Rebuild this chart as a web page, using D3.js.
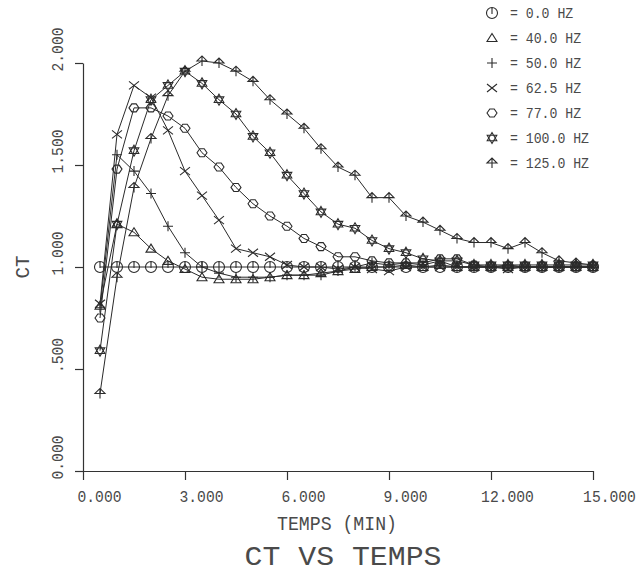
<!DOCTYPE html>
<html>
<head>
<meta charset="utf-8">
<script src="https://cdn.jsdelivr.net/npm/d3@7"></script>
<style>
  body { margin: 0; background: #fff; }
  svg text { font-family: "Liberation Mono", "DejaVu Sans Mono", monospace; fill: #4a4a4a; }
</style>
</head>
<body>
<svg id="chart" width="642" height="574"></svg>
<script>
// sample times (min)
const times = [0.5, 1.0, 1.5, 2.0, 2.5, 3.0, 3.5, 4.0, 4.5, 5.0,
               5.5, 6.0, 6.5, 7.0, 7.5, 8.0, 8.5, 9.0, 9.5, 10.0,
               10.5, 11.0, 11.5, 12.0, 12.5, 13.0, 13.5, 14.0, 14.5, 15.0];

// CT values, one array per frequency
const ct0   = [1.00, 1.00, 1.00, 1.00, 1.00, 1.00, 1.00, 1.00, 1.00, 1.00,
               1.00, 1.00, 1.00, 1.00, 1.00, 1.00, 1.00, 1.00, 1.00, 1.00,
               1.00, 1.00, 1.00, 1.00, 1.00, 1.00, 1.00, 1.00, 1.00, 1.00];
const ct40  = [0.81, 1.21, 1.17, 1.09, 1.03, 0.99, 0.95, 0.94, 0.94, 0.94,
               0.95, 0.96, 0.96, 0.97, 0.98, 0.99, 1.00, 1.00, 1.01, 1.00,
               1.01, 1.00, 1.00, 1.00, 1.00, 1.00, 1.00, 1.00, 1.00, 1.00];
const ct50  = [0.80, 1.55, 1.47, 1.36, 1.20, 1.07, 1.00, 0.97, 0.95, 0.95,
               0.95, 0.96, 0.96, 0.96, 0.98, 1.00, 1.02, 1.01, 1.02, 1.01,
               1.03, 1.00, 1.00, 1.00, 1.01, 1.00, 1.00, 1.00, 1.00, 1.00];
const ct62  = [0.82, 1.65, 1.89, 1.83, 1.67, 1.47, 1.35, 1.23, 1.09, 1.07,
               1.05, 1.01, 1.00, 1.00, 0.99, 1.00, 0.99, 0.98, 1.00, 1.00,
               1.00, 1.00, 1.00, 1.00, 0.99, 1.00, 1.00, 1.00, 1.00, 1.00];
const ct77  = [0.75, 1.48, 1.78, 1.78, 1.74, 1.68, 1.56, 1.49, 1.39, 1.31,
               1.25, 1.20, 1.14, 1.10, 1.05, 1.05, 1.03, 1.02, 1.02, 1.02,
               1.04, 1.04, 1.01, 1.00, 1.00, 1.00, 1.00, 1.00, 1.00, 1.00];
const ct100 = [0.59, 1.21, 1.57, 1.82, 1.89, 1.96, 1.90, 1.82, 1.75, 1.64,
               1.56, 1.45, 1.36, 1.27, 1.21, 1.19, 1.13, 1.09, 1.07, 1.04,
               1.03, 1.03, 1.01, 1.01, 1.01, 1.01, 1.01, 1.01, 1.01, 1.01];
const ct125 = [0.38, 0.95, 1.39, 1.63, 1.84, 1.96, 2.01, 2.00, 1.96, 1.91,
               1.82, 1.75, 1.68, 1.58, 1.49, 1.45, 1.34, 1.34, 1.25, 1.22,
               1.18, 1.14, 1.12, 1.12, 1.09, 1.12, 1.07, 1.03, 1.02, 1.01];

const seriesNames = ["0.0 HZ", "40.0 HZ", "50.0 HZ", "62.5 HZ", "77.0 HZ", "100.0 HZ", "125.0 HZ"];
const xTicks = [0, 3, 6, 9, 12, 15];
const xTickLabels = ["0.000", "3.000", "6.000", "9.000", "12.000", "15.000"];
const yTicks = [0, 0.5, 1.0, 1.5, 2.0];
const yTickLabels = ["0.000", ".500", "1.000", "1.500", "2.000"];

// plotter style symbols, one per series
const markers = [
    "M5.5,0A5.5,5.5 0 1,1 -5.5,0A5.5,5.5 0 1,1 5.5,0M0,-5.5V1",
    "M0,-4.5L5,3.5H-5Z",
    "M-5,0H5M0,-5V5",
    "M-5,-4L5,4M-5,4L5,-4",
    "M-5,0L-2.2,-4L2.2,-4L5,0L2.2,4L-2.2,4Z",
    "M0,-5.5L4.8,2.8H-4.8ZM0,5.5L4.8,-2.8H-4.8Z",
    "M-5,0L0,-5L5,0ZM0,-5V5"
];

const series = [ct0, ct40, ct50, ct62, ct77, ct100, ct125].map(function(vals, i) {
    return { name: seriesNames[i], marker: markers[i], points: times.map(function(t, j) { return [t, vals[j]]; }) };
});

const svg = d3.select("#chart");
const charW = 8.8;

const x = d3.scaleLinear().domain([0, 15]).range([83, 593]);
const y = d3.scaleLinear().domain([0, 2]).range([471, 63]);

//x axis
const xAxis = svg.append("g")
    .attr("transform", "translate(0," + y(0) + ")")
    .call(d3.axisBottom(x).tickValues(xTicks).tickSize(9).tickSizeOuter(0)
        .tickFormat(function(d, i) { return xTickLabels[i]; }));
xAxis.selectAll("text")
    .attr("x", 16).attr("y", 31).attr("dy", null)
    .attr("text-anchor", "middle")
    .attr("font-size", 16)
    .attr("textLength", function(d, i) { return xTickLabels[i].length * charW; })
    .attr("lengthAdjust", "spacingAndGlyphs");

//y axis
const yAxis = svg.append("g")
    .attr("transform", "translate(" + x(0) + ",0)")
    .call(d3.axisLeft(y).tickValues(yTicks).tickSize(8).tickSizeOuter(0)
        .tickFormat(function(d, i) { return yTickLabels[i]; }));
yAxis.selectAll("text")
    .attr("x", 0).attr("y", 0).attr("dy", null)
    .attr("transform", "translate(-20,-14) rotate(-90)")
    .attr("text-anchor", "middle")
    .attr("font-size", 16)
    .attr("textLength", function(d, i) { return yTickLabels[i].length * charW; })
    .attr("lengthAdjust", "spacingAndGlyphs");

svg.selectAll(".domain, .tick line").attr("stroke", "#333").attr("stroke-width", 1.2);

//curves
const line = d3.line().x(function(d) { return x(d[0]); }).y(function(d) { return y(d[1]); });

const groups = svg.selectAll(".series")
    .data(series)
    .enter().append("g")
    .attr("class", "series");

groups.append("path")
    .attr("d", function(d) { return line(d.points); })
    .attr("fill", "none")
    .attr("stroke", "#2a2a2a")
    .attr("stroke-width", 1);

groups.each(function(s) {
    d3.select(this).selectAll(".mk")
        .data(s.points)
        .enter().append("path")
        .attr("class", "mk")
        .attr("d", s.marker)
        .attr("transform", function(d) { return "translate(" + x(d[0]) + "," + y(d[1]) + ")"; })
        .attr("fill", "none")
        .attr("stroke", "#2a2a2a")
        .attr("stroke-width", 1.1);
});

//legend
const legend = svg.append("g");
const rows = legend.selectAll("g")
    .data(series)
    .enter().append("g")
    .attr("transform", function(d, i) { return "translate(492," + (13 + i * 25) + ")"; });
rows.append("path")
    .attr("d", function(d) { return d.marker; })
    .attr("fill", "none")
    .attr("stroke", "#2a2a2a")
    .attr("stroke-width", 1.1);
rows.append("text")
    .attr("x", 18).attr("y", 5)
    .attr("font-size", 14)
    .attr("textLength", function(d) { return ("= " + d.name).length * 7.9; })
    .attr("lengthAdjust", "spacingAndGlyphs")
    .text(function(d) { return "= " + d.name; });

//axis titles
svg.append("text")
    .attr("x", 337).attr("y", 530)
    .attr("text-anchor", "middle")
    .attr("font-size", 20)
    .attr("textLength", 120)
    .attr("lengthAdjust", "spacingAndGlyphs")
    .text("TEMPS (MIN)");

svg.append("text")
    .attr("transform", "translate(29,267) rotate(-90)")
    .attr("text-anchor", "middle")
    .attr("font-size", 20)
    .attr("textLength", 23)
    .attr("lengthAdjust", "spacingAndGlyphs")
    .text("CT");

svg.append("text")
    .attr("x", 343).attr("y", 565)
    .attr("text-anchor", "middle")
    .attr("font-size", 27)
    .attr("textLength", 197)
    .attr("lengthAdjust", "spacingAndGlyphs")
    .text("CT VS TEMPS");
</script>
</body>
</html>
